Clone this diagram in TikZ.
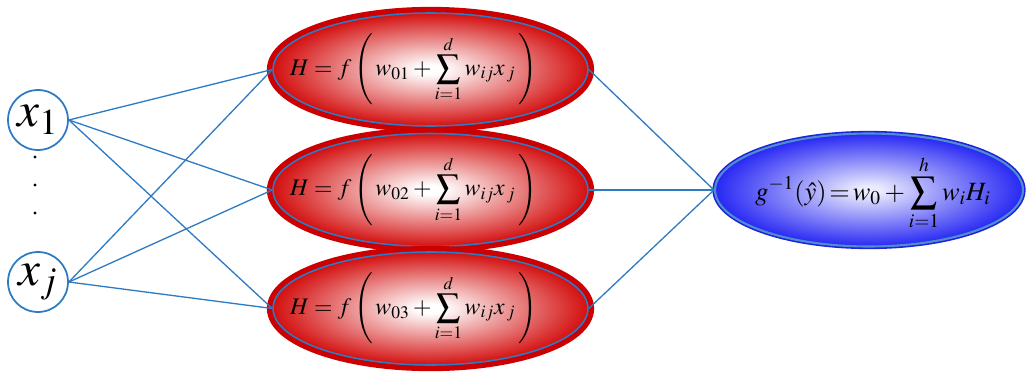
\documentclass[tikz,border=0pt]{standalone}
\usepackage{mathptmx}
\usetikzlibrary{shapes.geometric}
\definecolor{linkblue}{HTML}{2E7BC4}
\definecolor{hidred}{HTML}{D41010}
\definecolor{ringred}{HTML}{CC0000}
\definecolor{outblue}{HTML}{2828F4}
\definecolor{ringblue}{HTML}{2020E0}
\pgfdeclareradialshading{redglow}{\pgfpoint{0bp}{0bp}}{color(0bp)=(white); color(2bp)=(white); color(25bp)=(hidred); color(50bp)=(hidred)}
\pgfdeclareradialshading{blueglow}{\pgfpoint{0bp}{0bp}}{color(0bp)=(white!92!outblue); color(2bp)=(white!90!outblue); color(25bp)=(outblue); color(50bp)=(outblue)}

\begin{document}
\begin{tikzpicture}[x=0.02cm, y=-0.02cm,
  link/.style={draw=linkblue, line width=.75pt},
  innode/.style={circle, draw=linkblue, line width=1pt, minimum size=1.2cm, inner sep=0pt, font=\fontsize{28}{30}\selectfont},
  hidnode/.style={ellipse, shade, shading=redglow, draw=linkblue, line width=.9pt,
    minimum width=6.3cm, minimum height=2.26cm, inner sep=0pt,
    preaction={draw=ringred, line width=7pt}},
  outnode/.style={ellipse, shade, shading=blueglow, draw=linkblue!85!white, line width=1.2pt,
    minimum width=6.16cm, minimum height=2.26cm, inner sep=0pt,
    preaction={draw=ringblue, line width=3pt}},
  formula/.style={inner sep=0pt, font=\fontsize{13.5}{15}\selectfont},
  outformula/.style={inner sep=0pt, font=\fontsize{15}{17}\selectfont}]
  \useasboundingbox (0,0) rectangle (1026,372);
  % inputs
  \node[innode] (x1) at (38,120) {$x_1$};
  \node[innode] (xj) at (38,282) {$x_j$};
  \foreach \y in {157,185,213} \fill (35,\y) circle (0.9pt);
  % hidden layer
  \foreach \n/\y/\k in {1/69.5/01, 2/190/02, 3/308.5/03} {
    \node[hidnode] (h\n) at (430.5,\y) {};
    \node[formula, xshift=-0.34cm] (f\n) at (h\n)
      {$\displaystyle H=f\left(\,w_{\k}+\sum_{i=1}^{d}w_{ij}x_{\,j}\,\right)$};
  }
  % output
  \node[outnode] (out) at (869,190) {};
  \node[outformula] (g) at ([xshift=0.08cm,yshift=-0.06cm]out.center)
    {$\displaystyle g^{-1}(\hat{y})\!=\!w_0+\sum_{i=1}^{h}w_iH_i$};
  % links
  \foreach \i in {x1,xj}
    \foreach \n in {1,2,3} \draw[link] (\i.east) -- (h\n.west);
  \foreach \n in {1,2,3} \draw[link] (h\n.east) -- (out.west);
\end{tikzpicture}
\end{document}
